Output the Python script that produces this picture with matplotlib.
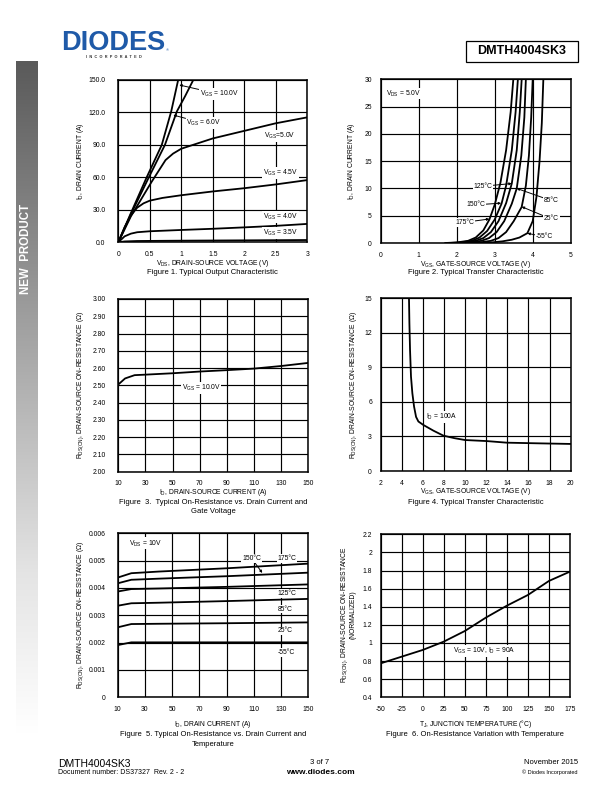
import numpy as np
import matplotlib
matplotlib.use("Agg")
import matplotlib.pyplot as plt
from matplotlib.patches import Rectangle
from matplotlib.colors import LinearSegmentedColormap

plt.rcParams["font.family"] = ["Liberation Sans", "DejaVu Sans"]
plt.rcParams["mathtext.fontset"] = "custom"
plt.rcParams["mathtext.rm"] = "Liberation Sans"
plt.rcParams["mathtext.it"] = "Liberation Sans"
plt.rcParams["mathtext.default"] = "regular"

# ================================
# data read from the datasheet page
# ================================
# Fig 1 - output characteristic (VDS in V, ID in A)
f1_vds_10v = [0, 0.2, 0.45, 0.69, 0.84, 0.95]
f1_id_10v = [0, 27, 60, 90, 121, 150]
f1_vds_6v = [0, 0.2, 0.48, 0.74, 0.93, 1.06, 1.19]
f1_id_6v = [0, 26, 59.5, 90, 121, 135, 150]
f1_vds_5v = [0, 0.2, 0.53, 0.75, 0.87, 1.0, 1.5, 2.0, 2.5, 3.0]
f1_id_5v = [0, 24, 56, 76, 82, 86.5, 96, 103, 110, 115.5]
f1_vds_45v = [0, 0.1, 0.2, 0.3, 0.4, 0.5, 0.7, 1.0, 1.5, 2.0, 2.5, 3.0]
f1_id_45v = [0, 14, 25, 32, 36, 38.5, 41, 43.5, 47, 50, 53.5, 57.5]
f1_vds_4v = [0, 0.1, 0.2, 0.3, 0.5, 1.0, 1.5, 2.0, 2.5, 3.0]
f1_id_4v = [0, 5.5, 8, 9.3, 10.2, 11.4, 12.5, 13.8, 15.2, 17]
f1_vds_35v = [0, 0.1, 0.3, 1.0, 2.0, 3.0]
f1_id_35v = [0, 0.8, 1.2, 1.5, 1.8, 2.1]

# Fig 2 - transfer characteristic (VGS in V, ID in A)
f2_temps = ["175", "150", "125", "85", "25", "-55"]
f2_vgs = {
    "175": [1.7, 2.0, 2.3, 2.5, 2.7, 2.86, 3.0, 3.15, 3.3, 3.42, 3.49],
    "150": [1.8, 2.1, 2.4, 2.6, 2.8, 3.0, 3.18, 3.3, 3.45, 3.55, 3.61],
    "125": [1.9, 2.2, 2.5, 2.7, 2.9, 3.1, 3.3, 3.45, 3.58, 3.66, 3.71],
    "85": [2.0, 2.35, 2.65, 2.85, 3.05, 3.25, 3.45, 3.58, 3.7, 3.78, 3.82],
    "25": [2.2, 2.6, 2.9, 3.1, 3.3, 3.5, 3.71, 3.82, 3.9, 3.96, 4.0],
    "-55": [2.5, 2.9, 3.2, 3.45, 3.65, 3.86, 4.0, 4.1, 4.18, 4.24, 4.28],
}
f2_id = {
    "175": [0, 0.1, 0.4, 1.0, 2.3, 4.3, 7, 11, 17, 24, 30],
    "150": [0, 0.1, 0.4, 1.0, 2.2, 4.3, 7.2, 10.5, 17, 24, 30],
    "125": [0, 0.1, 0.4, 0.9, 2.0, 4.0, 7.3, 10.9, 17, 24, 30],
    "85": [0, 0.1, 0.4, 0.9, 2.0, 4.0, 7.2, 10.0, 16, 23, 30],
    "25": [0, 0.1, 0.4, 0.9, 2.0, 4.0, 6.6, 10.5, 16, 23, 30],
    "-55": [0, 0.1, 0.3, 0.6, 1.0, 1.8, 4.0, 8.5, 15, 22, 30],
}

# Fig 3 - RDS(on) vs ID at VGS = 10V
f3_id = [10, 15, 22, 30, 50, 70, 90, 110, 130, 150]
f3_rds = [2.505, 2.54, 2.559, 2.562, 2.570, 2.580, 2.588, 2.597, 2.612, 2.630]

# Fig 4 - RDS(on) vs VGS at ID = 100A
f4_vgs = [4.68, 4.72, 4.78, 4.87, 5.0, 5.16, 5.35, 5.57, 6.04, 7.0, 7.94, 9.0, 9.99, 12.04, 13.94, 17.1, 20]
f4_rds = [15, 12.8, 10.5, 8.2, 6.75, 5.6, 4.7, 4.3, 4.0, 3.5, 3.07, 2.85, 2.69, 2.6, 2.46, 2.4, 2.35]

# Fig 5 - RDS(on) vs ID and temperature
f5_id = [10, 20, 40, 90, 150]
f5_rds = {
    "175": [0.00438, 0.00454, 0.00460, 0.00472, 0.00489],
    "150": [0.00417, 0.00430, 0.00434, 0.00443, 0.00456],
    "125": [0.00387, 0.00396, 0.00398, 0.00404, 0.00413],
    "85": [0.00335, 0.00344, 0.00346, 0.00352, 0.00360],
    "25": [0.00256, 0.00268, 0.00269, 0.00271, 0.00274],
    "-55": [0.00191, 0.00201, 0.00201, 0.00201, 0.00201],
}

# Fig 6 - normalized RDS(on) vs junction temperature
f6_tj = [-50, -25, 0, 25, 50, 75, 100, 125, 150, 175]
f6_rds = [0.775, 0.849, 0.923, 1.015, 1.132, 1.28, 1.412, 1.53, 1.685, 1.788]

# ================================
# page setup (612 x 792 px)
# ================================
W, H = 612, 792
fig = plt.figure(figsize=(W / 100, H / 100), dpi=100)

TICK = 4.9
LBL = 4.9
CAP = 5.5
LW = 1.3


def fx(x):
    return x / W


def fy(y):
    return 1 - y / H


def page_axes(l, t, r, b):
    return fig.add_axes([fx(l), fy(b), (r - l) / W, (b - t) / H])


def style(ax, xlim, ylim, xt, yt, xtl, ytl, ypad):
    ax.set_xlim(*xlim)
    ax.set_ylim(*ylim)
    ax.set_xticks(xt)
    ax.set_yticks(yt)
    ax.set_xticklabels(xtl)
    ax.set_yticklabels(ytl)
    ax.grid(True, color="black", lw=0.85)
    ax.tick_params(length=0, labelsize=TICK, pad=6.3)
    ax.tick_params(axis="y", pad=ypad)
    for s in ax.spines.values():
        s.set_linewidth(1.1)
    ax.set_axisbelow(True)


def label(ax, x, y, s, **kw):
    ax.text(x, y, s, fontsize=LBL, va="center", zorder=5,
            bbox=dict(fc="white", ec="none", pad=0.6), **kw)


def pointer(ax, s, xy, xytext, **kw):
    ax.annotate(s, xy=xy, xytext=xytext, fontsize=LBL, va="center", zorder=5,
                bbox=dict(fc="white", ec="none", pad=0.6),
                arrowprops=dict(arrowstyle="-|>", color="black", lw=0.7,
                                mutation_scale=3.5, shrinkA=0, shrinkB=0), **kw)


# ---- Fig 1
ax1 = page_axes(118.3, 80, 307.3, 242.3)
for xs, ys in [(f1_vds_10v, f1_id_10v), (f1_vds_6v, f1_id_6v), (f1_vds_5v, f1_id_5v),
               (f1_vds_45v, f1_id_45v), (f1_vds_4v, f1_id_4v), (f1_vds_35v, f1_id_35v)]:
    ax1.plot(xs, ys, color="black", lw=LW)
xt = [0, 0.5, 1, 1.5, 2, 2.5, 3]
yt = [0, 30, 60, 90, 120, 150]
style(ax1, (0, 3), (0, 150), xt, yt, ["0", "0.5", "1", "1.5", "2", "2.5", "3"],
      [f"{v:.1f}" for v in yt], 9.2)
pointer(ax1, "V$_{GS}$ = 10.0V", (0.968, 145.4), (1.29, 137))
pointer(ax1, "V$_{GS}$ = 6.0V", (0.873, 117.6), (1.08, 110))
label(ax1, 2.31, 98.5, "V$_{GS}$=5.0V")
label(ax1, 2.30, 63.8, "V$_{GS}$ = 4.5V")
label(ax1, 2.30, 23.7, "V$_{GS}$ = 4.0V")
label(ax1, 2.30, 8.9, "V$_{GS}$ = 3.5V")

# ---- Fig 2
ax2 = page_axes(380.7, 79.3, 570.7, 243)
for t in f2_temps:
    ax2.plot(f2_vgs[t], f2_id[t], color="black", lw=LW)
style(ax2, (0, 5), (0, 30), range(0, 6), range(0, 31, 5),
      [str(v) for v in range(0, 6)], [str(v) for v in range(0, 31, 5)], 6.3)
label(ax2, 0.15, 27.4, "V$_{DS}$ = 5.0V")
pointer(ax2, "125°C", (3.45, 10.9), (2.44, 10.4))
pointer(ax2, "150°C", (3.17, 7.3), (2.26, 7.0))
pointer(ax2, "175°C", (2.86, 4.4), (1.97, 3.8))
pointer(ax2, "85°C", (3.58, 10.0), (4.30, 7.75))
pointer(ax2, "25°C", (3.71, 6.65), (4.29, 4.4))
pointer(ax2, "-55°C", (3.86, 1.78), (4.08, 1.15))

# ---- Fig 3
ax3 = page_axes(118.3, 299, 308.3, 471.7)
ax3.plot(f3_id, f3_rds, color="black", lw=LW)
yt3 = [2.0 + 0.1 * i for i in range(11)]
style(ax3, (10, 150), (2.0, 3.0), range(10, 151, 20), yt3,
      [str(v) for v in range(10, 151, 20)], [f"{v:.2f}" for v in yt3], 8.8)
label(ax3, 56.7, 2.483, "V$_{GS}$ = 10.0V")

# ---- Fig 4
ax4 = page_axes(380.7, 298.3, 570.7, 471)
ax4.plot(f4_vgs, f4_rds, color="black", lw=LW)
style(ax4, (2, 20), (0, 15), range(2, 21, 2), range(0, 16, 3),
      [str(v) for v in range(2, 21, 2)], [str(v) for v in range(0, 16, 3)], 6.3)
label(ax4, 6.29, 4.66, "I$_{D}$ = 100A")

# ---- Fig 5
ax5 = page_axes(117.7, 533.3, 308.3, 697.3)
for t in f2_temps:
    ax5.plot(f5_id, f5_rds[t], color="black", lw=LW)
yt5 = [0, 0.001, 0.002, 0.003, 0.004, 0.005, 0.006]
style(ax5, (10, 150), (0, 0.006), range(10, 151, 20), yt5,
      [str(v) for v in range(10, 151, 20)], ["0"] + [f"{v:.3f}" for v in yt5[1:]], 8.8)
label(ax5, 18.3, 0.00563, "V$_{DS}$ = 10V")
pointer(ax5, "150°C", (116.2, 0.00455), (101.5, 0.00508))
label(ax5, 127.5, 0.00508, "175°C")
label(ax5, 127.5, 0.0038, "125°C")
label(ax5, 127.5, 0.00323, "85°C")
label(ax5, 127.5, 0.00243, "25°C")
label(ax5, 127.5, 0.00163, "-55°C")

# ---- Fig 6
ax6 = page_axes(380.7, 534.3, 570, 697.3)
ax6.plot(f6_tj, f6_rds, color="black", lw=LW)
yt6 = [0.4, 0.6, 0.8, 1.0, 1.2, 1.4, 1.6, 1.8, 2.0, 2.2]
style(ax6, (-50, 175), (0.4, 2.2), range(-50, 176, 25), yt6,
      [str(v) for v in range(-50, 176, 25)], [f"{v:g}" for v in yt6], 6.3)
label(ax6, 36.3, 0.911, "V$_{GS}$ = 10V, I$_{D}$ = 90A")

# ---- axis titles and captions (page coordinates)
texts = [
    # x, y, text, rotation
    (212.8, 264, "V$_{DS}$, DRAIN-SOURCE VOLTAGE (V)", 0),
    (80.7, 161, "I$_{D}$, DRAIN CURRENT (A)", 90),
    (475.7, 264.3, "V$_{GS}$, GATE-SOURCE VOLTAGE (V)", 0),
    (351.7, 161, "I$_{D}$, DRAIN CURRENT (A)", 90),
    (213.3, 492.3, "I$_{D}$, DRAIN-SOURCE CURRENT (A)", 0),
    (80.7, 385, "R$_{DS(ON)}$, DRAIN-SOURCE ON-RESISTANCE (Ω)", 90),
    (475.7, 491.7, "V$_{GS}$, GATE-SOURCE VOLTAGE (V)", 0),
    (353.3, 385, "R$_{DS(ON)}$, DRAIN-SOURCE ON-RESISTANCE (Ω)", 90),
    (213, 724, "I$_{D}$, DRAIN CURRENT (A)", 0),
    (80.7, 615, "R$_{DS(ON)}$, DRAIN-SOURCE ON-RESISTANCE (Ω)", 90),
    (475.3, 724, "T$_{J}$, JUNCTION TEMPERATURE (°C)", 0),
    (344.3, 615, "R$_{DS(ON)}$, DRAIN-SOURCE ON-RESISTANCE", 90),
    (353.3, 615, "(NORMALIZED)", 90),
]
for x, y, s, rot in texts:
    fig.text(fx(x), fy(y), s, fontsize=LBL, rotation=rot, ha="center", va="center")

captions = [
    (212.8, 272.5, "Figure 1. Typical Output Characteristic"),
    (475.7, 272.5, "Figure 2. Typical Transfer Characteristic"),
    (213.3, 503, "Figure  3.  Typical On-Resistance vs. Drain Current and"),
    (213.3, 511.8, "Gate Voltage"),
    (475.7, 502, "Figure 4. Typical Transfer Characteristic"),
    (213, 735, "Figure  5. Typical On-Resistance vs. Drain Current and"),
    (213, 744, "Temperature"),
    (475.3, 735, "Figure  6. On-Resistance Variation with Temperature"),
]
for x, y, s in captions:
    fig.text(fx(x), fy(y), s, fontsize=CAP, ha="center", va="center")

# ---- side bar
bar = fig.add_axes([fx(16), 0, 21 / W, 1 - 61 / H])
grey = LinearSegmentedColormap.from_list(
    "bar", [(0, "#5a5a5a"), (0.45, "#b2b2b2"), (0.7, "#e4e4e4"), (0.92, "#ffffff"), (1, "#ffffff")])
bar.imshow(np.linspace(0, 1, 256).reshape(-1, 1), cmap=grey, aspect="auto")
bar.axis("off")
fig.text(fx(26.5), fy(249), "NEW  PRODUCT", color="white", fontsize=8.3,
         fontweight="bold", rotation=90, ha="center", va="center")

# ---- header
fig.text(fx(61), fy(43), "DIODES", color="#1f5aa8", fontsize=19.5,
         fontweight="bold", ha="left", va="center")
fig.text(fx(166), fy(50), "®", color="#1f5aa8", fontsize=3, ha="left", va="center")
fig.text(fx(114), fy(57.5), "I  N  C  O  R  P  O  R  A  T  E  D", color="#333333",
         fontsize=2.8, fontweight="bold", ha="center", va="center")
fig.add_artist(Rectangle((fx(466), fy(62)), 112 / W, 21 / H, transform=fig.transFigure,
                         fill=False, ec="black", lw=0.9))
fig.text(fx(522), fy(51.5), "DMTH4004SK3", fontsize=9, fontweight="bold",
         ha="center", va="center")

# ---- footer
fig.text(fx(58), fy(764), "DMTH4004SK3", fontsize=7.5, ha="left", va="center")
fig.text(fx(58), fy(773), "Document number: DS37327  Rev. 2 - 2", fontsize=5,
         ha="left", va="center")
fig.text(fx(320), fy(763), "3 of 7", fontsize=5.5, ha="center", va="center")
fig.text(fx(320), fy(772.5), "www.diodes.com", fontsize=6, fontweight="bold",
         ha="center", va="center")
fig.text(fx(578), fy(763), "November 2015", fontsize=5.5, ha="right", va="center")
fig.text(fx(578), fy(772), "© Diodes Incorporated", fontsize=4, ha="right", va="center")

fig.savefig("out.png", dpi=100)
